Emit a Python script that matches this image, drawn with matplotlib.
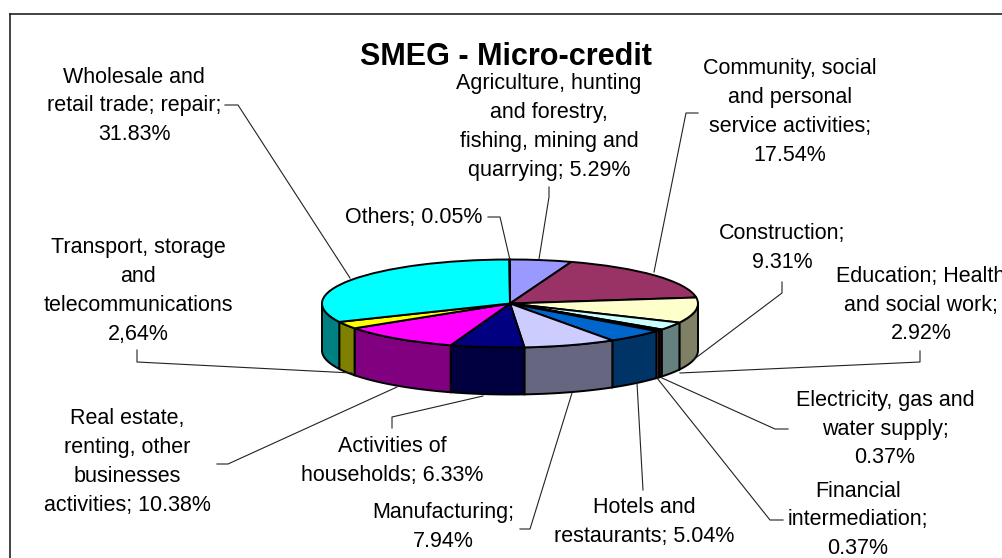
import matplotlib
matplotlib.use("Agg")
import matplotlib.pyplot as plt
import numpy as np

plt.rcParams["font.family"] = ["Liberation Sans", "DejaVu Sans"]

# slices clockwise from 12 o'clock
values = [5.29, 17.54, 9.31, 2.92, 0.37, 0.37, 5.04, 7.94, 6.33, 10.38, 2.64, 31.83, 0.05]
top_colors = ["#9999FF", "#993366", "#FFFFCC", "#CCFFFF", "#660066", "#FF8080", "#0066CC",
              "#CCCCFF", "#000080", "#FF00FF", "#FFFF00", "#00FFFF", "#000000"]
side_colors = ["#4C4C80", "#4C1933", "#808066", "#668080", "#330033", "#804040", "#003366",
               "#666680", "#000040", "#800080", "#808000", "#008080", "#000000"]

labels = [
    "Agriculture, hunting\nand forestry,\nfishing, mining and\nquarrying; 5.29%",
    "Community, social\nand personal\nservice activities;\n17.54%",
    "Construction;\n9.31%",
    "Education; Health\nand social work;\n2.92%",
    "Electricity, gas and\nwater supply;\n0.37%",
    "Financial\nintermediation;\n0.37%",
    "Hotels and\nrestaurants; 5.04%",
    "Manufacturing;\n7.94%",
    "Activities of\nhouseholds; 6.33%",
    "Real estate,\nrenting, other\nbusinesses\nactivities; 10.38%",
    "Transport, storage\nand\ntelecommunications\n2,64%",
    "Wholesale and\nretail trade; repair;\n31.83%",
    "Others; 0.05%",
]
label_x = [549, 790, 782, 921, 885, 858, 644, 443, 392, 127, 138, 134, 414]
label_y = [127, 112, 248, 305, 429, 520, 522, 527, 461, 462, 291, 106, 217]

leaders = [
    [(549, 187), (549, 197), (539, 259)],
    [(698, 113), (686, 113), (654, 272)],
    [(782, 282), (782, 293), (693, 360)],
    [(920, 351), (920, 362), (680, 373)],
    [(788, 429), (775, 429), (662, 378)],
    [(783, 520), (770, 520), (657, 378)],
    [(643, 490), (637, 383)],
    [(520, 529), (530, 529), (572, 393)],
    [(392, 428), (392, 417), (483, 396)],
    [(217, 464), (228, 464), (397, 387)],
    [(137, 350), (137, 362), (352, 373)],
    [(225, 105), (238, 105), (350, 278)],
    [(488, 217), (500, 217), (510, 260)],
]

W, H = 1002, 558
cx, cy, rx, ry, depth = 510, 303.5, 188, 44, 47

fig = plt.figure(figsize=(W / 100, H / 100), dpi=100, facecolor="white")

# pixel overlay for frame, leaders and labels
over = fig.add_axes([0, 0, 1, 1], zorder=3)
over.set_xlim(0, W)
over.set_ylim(H, 0)
over.axis("off")

# the pie axes is stretched so the unit circle fills the tilted ellipse
pie_ax = fig.add_axes([(cx - rx) / W, 1 - (cy + ry) / H, 2 * rx / W, 2 * ry / H], zorder=2)
pie_ax.pie(values, colors=top_colors, startangle=90, counterclock=False, radius=1,
           wedgeprops={"edgecolor": "black", "linewidth": 1.4})
pie_ax.set_aspect("auto")
pie_ax.patch.set_alpha(0)

# side wall, only the front half of the rim shows
drop = depth / ry
edges = 90 - np.cumsum([0] + values) * 3.6
for i in range(len(values)):
    a0, a1 = edges[i + 1], edges[i]
    a0 = a0 + 360 if a0 < -270 else a0
    lo, hi = max(a0, -180), min(a1, 0)
    if hi <= lo:
        continue
    t = np.radians(np.linspace(lo, hi, 40))
    xs = np.r_[np.cos(t), np.cos(t[::-1])]
    ys = np.r_[np.sin(t), np.sin(t[::-1]) - drop]
    pie_ax.fill(xs, ys, facecolor=side_colors[i], edgecolor="black", linewidth=1.4,
                clip_on=False, zorder=0)
pie_ax.set_xlim(-1, 1)
pie_ax.set_ylim(-1, 1)
for w in pie_ax.patches:
    w.set_clip_on(False)

# chart frame, right and bottom sides fall off the image
over.plot([10, 10], [H, 14], color="#222222", lw=1.2)
over.plot([10, W], [14, 14], color="#222222", lw=1.2)

for pts in leaders:
    over.plot([p[0] for p in pts], [p[1] for p in pts], color="#222222", lw=0.8, zorder=1)

for lab, x, y in zip(labels, label_x, label_y):
    over.text(x, y, lab, ha="center", va="center", fontsize=15.5, linespacing=1.48,
              color="black")

over.text(506, 57, "SMEG - Micro-credit", ha="center", va="center", fontsize=22,
          fontweight="bold", color="black")

fig.savefig("out.png", dpi=100)
